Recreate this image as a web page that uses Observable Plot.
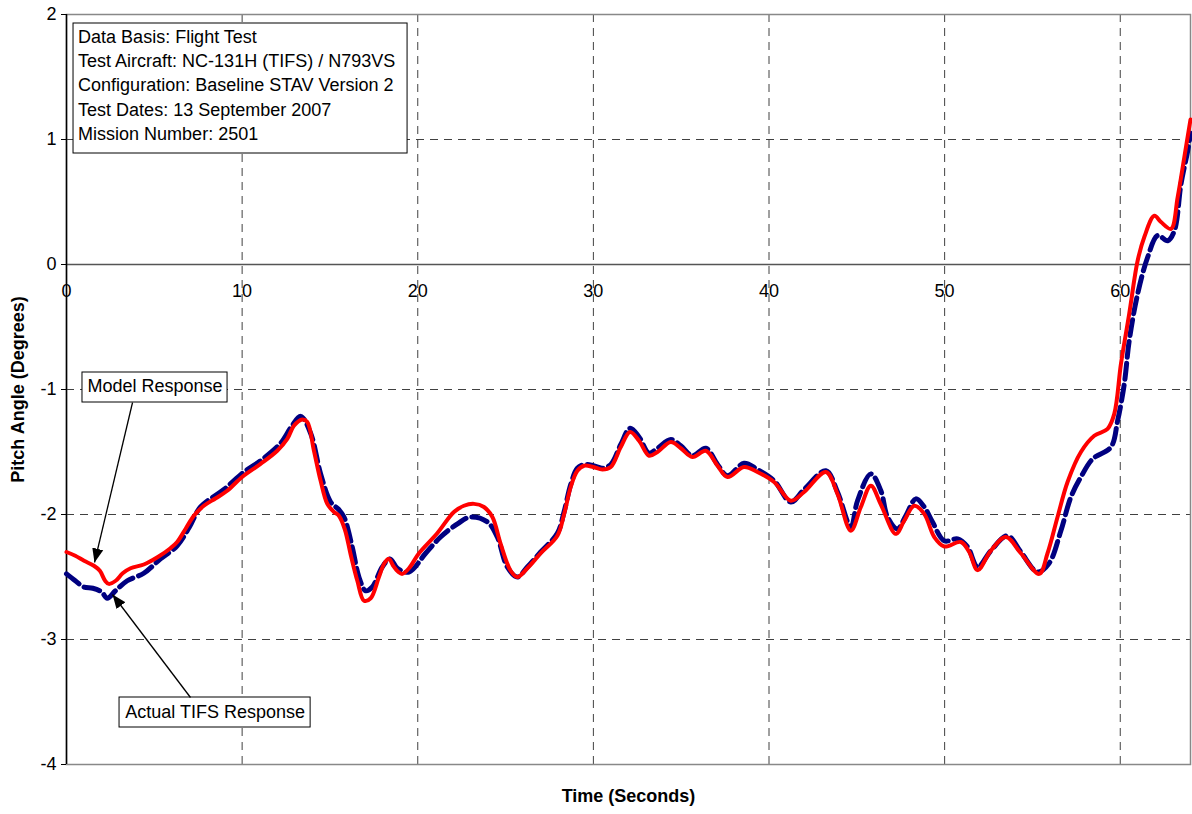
<!DOCTYPE html>
<html>
<head>
<meta charset="utf-8">
<script src="https://cdn.jsdelivr.net/npm/d3@7"></script>
<script src="https://cdn.jsdelivr.net/npm/@observablehq/plot@0.6"></script>
<style>
  html, body { margin: 0; padding: 0; background: #fff; }
</style>
</head>
<body>
<div id="chart"></div>
<script>
// ---- Data ----
const modelT = [0,0.5,1.0,1.56,1.9,2.2,2.41,2.8,3.2,3.65,4.4,5.2,5.92,6.3,6.8,7.25,7.82,8.5,9.15,10.0,11.05,12.0,12.57,12.95,13.43,13.71,14.09,14.47,14.85,15.23,15.51,15.85,16.18,16.56,16.94,17.32,17.79,18.1,18.36,18.6,18.9,19.12,19.5,20.07,21.11,22.06,22.63,23.2,23.77,24.25,24.72,25.29,25.67,26.24,27.0,27.95,28.33,28.71,29.09,29.47,30.0,30.51,30.99,31.56,32.09,32.6,33.17,33.65,34.41,34.98,35.64,36.4,37.07,37.64,38.58,39.34,40.29,41.24,42.0,43.24,43.9,44.66,45.23,45.8,46.37,47.22,47.7,48.27,48.84,49.41,49.98,50.93,51.4,51.88,52.63,53.49,54.34,55.39,55.86,56.43,57.0,57.76,58.52,59.28,59.66,60.04,60.51,60.99,61.37,61.94,62.32,62.89,63.27,63.65,64.0];
const modelV = [-2.30,-2.33,-2.37,-2.41,-2.45,-2.53,-2.555,-2.53,-2.47,-2.43,-2.40,-2.34,-2.27,-2.22,-2.11,-2.01,-1.93,-1.87,-1.81,-1.70,-1.595,-1.49,-1.395,-1.29,-1.24,-1.26,-1.49,-1.73,-1.915,-1.98,-2.01,-2.12,-2.32,-2.53,-2.69,-2.67,-2.50,-2.39,-2.355,-2.41,-2.46,-2.475,-2.43,-2.31,-2.15,-1.98,-1.93,-1.915,-1.94,-2.02,-2.235,-2.45,-2.50,-2.43,-2.31,-2.17,-2.00,-1.78,-1.65,-1.61,-1.62,-1.64,-1.62,-1.46,-1.34,-1.41,-1.53,-1.50,-1.42,-1.47,-1.54,-1.49,-1.61,-1.70,-1.62,-1.66,-1.74,-1.89,-1.82,-1.66,-1.835,-2.13,-1.94,-1.77,-1.92,-2.155,-2.05,-1.93,-1.995,-2.18,-2.256,-2.22,-2.30,-2.445,-2.29,-2.18,-2.31,-2.475,-2.31,-2.02,-1.74,-1.50,-1.37,-1.315,-1.195,-0.795,-0.395,0.03,0.22,0.39,0.34,0.285,0.54,0.86,1.16];

const actualT = [0,0.5,0.99,1.5,2.0,2.32,2.79,3.46,4.4,5.35,6.3,7.0,7.63,8.96,10.1,11.05,12.19,12.8,13.33,13.9,14.47,15.04,15.5,15.8,16.27,16.65,17.03,17.41,17.98,18.42,18.84,19.5,20.45,21.3,22.26,23.01,23.97,24.53,25.1,25.67,26.24,27.0,27.95,28.33,28.71,29.09,29.47,30.0,30.51,30.99,31.56,32.09,32.6,33.17,33.65,34.41,34.98,35.64,36.4,37.07,37.64,38.58,39.34,40.29,41.24,42.0,43.24,43.9,44.66,45.04,45.8,46.37,46.75,47.32,47.79,48.36,48.84,49.31,49.98,50.74,51.31,51.88,52.63,53.58,54.34,55.3,55.95,56.62,57.19,57.76,58.43,59.47,59.85,60.23,60.51,60.99,61.56,62.13,62.7,63.08,63.46,63.84,64.0];
const actualV = [-2.475,-2.53,-2.58,-2.59,-2.62,-2.67,-2.61,-2.53,-2.47,-2.355,-2.25,-2.10,-1.94,-1.80,-1.66,-1.57,-1.43,-1.30,-1.215,-1.35,-1.675,-1.90,-1.96,-2.02,-2.26,-2.50,-2.61,-2.58,-2.42,-2.355,-2.43,-2.46,-2.31,-2.18,-2.075,-2.02,-2.06,-2.18,-2.42,-2.50,-2.42,-2.30,-2.15,-1.98,-1.76,-1.63,-1.60,-1.61,-1.63,-1.60,-1.44,-1.31,-1.38,-1.51,-1.47,-1.40,-1.45,-1.53,-1.47,-1.60,-1.69,-1.59,-1.64,-1.73,-1.90,-1.80,-1.65,-1.82,-2.10,-1.89,-1.675,-1.81,-2.02,-2.115,-2.01,-1.875,-1.94,-2.06,-2.21,-2.195,-2.26,-2.42,-2.29,-2.17,-2.30,-2.46,-2.39,-2.13,-1.86,-1.70,-1.555,-1.46,-1.25,-0.955,-0.61,-0.235,0.058,0.232,0.19,0.27,0.645,0.91,1.05];

const xTicks = [0,10,20,30,40,50,60];
const yTicks = [-4,-3,-2,-1,0,1,2];
const xGrid = [10,20,30,40,50,60];
const yGrid = [-3,-2,-1,1];

const infoLines = [
  "Data Basis: Flight Test",
  "Test Aircraft: NC-131H (TIFS) / N793VS",
  "Configuration: Baseline STAV Version 2",
  "Test Dates: 13 September 2007",
  "Mission Number: 2501"
];
const modelLabel = "Model Response";
const actualLabel = "Actual TIFS Response";
const xTitle = "Time (Seconds)";
const yTitle = "Pitch Angle (Degrees)";

// ---- Tables built from the arrays ----
const model = modelT.map((t, i) => ({t, v: modelV[i]}));
const actual = actualT.map((t, i) => ({t, v: actualV[i]}));

const font = "'Liberation Sans', Arial, Helvetica, sans-serif";

const svg = Plot.plot({
  width: 1192,
  height: 814,
  marginLeft: 66,
  marginRight: 2,
  marginTop: 14,
  marginBottom: 50,
  style: {fontFamily: font, background: "#fff", color: "#000"},
  x: {domain: [0, 64], axis: null},
  y: {domain: [-4, 2], axis: null},
  marks: [
    Plot.gridX(xGrid, {stroke: "#000", strokeOpacity: 0.75, strokeDasharray: "8,6", strokeWidth: 1}),
    Plot.gridY(yGrid, {stroke: "#000", strokeOpacity: 0.75, strokeDasharray: "8,6", strokeWidth: 1}),
    Plot.frame({stroke: "#888", strokeWidth: 1.5}),
    Plot.ruleY([0], {stroke: "#555", strokeWidth: 1.5}),
    Plot.ruleX([0], {stroke: "#000", strokeWidth: 1.5}),
    Plot.axisY(yTicks, {tickSize: 5, tickPadding: 5, fontSize: 18, tickFormat: d => String(d), label: null, stroke: "#000"}),
    Plot.text(xTicks, {x: d => d, y: 0, dy: 27, text: d => String(d), fontSize: 18, fill: "#000"}),
    // series
    Plot.line(actual, {x: "t", y: "v", stroke: "#000080", strokeWidth: 5, strokeDasharray: "16,6", curve: "catmull-rom"}),
    Plot.line(model, {x: "t", y: "v", stroke: "#ff0000", strokeWidth: 4, curve: "catmull-rom"}),
    // annotation boxes
    Plot.rect([{x1: 0.40, x2: 19.42, y1: 1.928, y2: 0.888}], {x1: "x1", x2: "x2", y1: "y1", y2: "y2", fill: "#fff", stroke: "#000", strokeWidth: 1}),
    Plot.rect([{x1: 0.91, x2: 9.17, y1: -0.864, y2: -1.104}], {x1: "x1", x2: "x2", y1: "y1", y2: "y2", fill: "#fff", stroke: "#000", strokeWidth: 1}),
    Plot.rect([{x1: 3.02, x2: 13.9, y1: -3.464, y2: -3.704}], {x1: "x1", x2: "x2", y1: "y1", y2: "y2", fill: "#fff", stroke: "#000", strokeWidth: 1}),
    Plot.text([infoLines.join("\n")], {x: 0.66, y: 1.915, text: d => d, textAnchor: "start", lineAnchor: "top", lineHeight: 1.36, fontSize: 18, fill: "#000"}),
    Plot.text([modelLabel], {x: 5.04, y: -0.976, text: d => d, fontSize: 18, fill: "#000"}),
    Plot.text([actualLabel], {x: 8.46, y: -3.584, text: d => d, fontSize: 18, fill: "#000"}),
    Plot.link([{x1: 3.76, y1: -1.104, x2: 1.595, y2: -2.384}, {x1: 7.06, y1: -3.464, x2: 2.62, y2: -2.64}],
      {x1: "x1", y1: "y1", x2: "x2", y2: "y2", stroke: "#000", strokeWidth: 1.3}),
    // axis titles
    Plot.text([xTitle], {frameAnchor: "bottom", dy: 37, text: d => d, fontSize: 18, fontWeight: "bold", fill: "#000"}),
    Plot.text([yTitle], {frameAnchor: "left", textAnchor: "middle", dx: -48, rotate: -90, text: d => d, fontSize: 18, fontWeight: "bold", fill: "#000"})
  ]
});

// filled arrowheads on the annotation links
const s = d3.select(svg);
s.append("defs").append("marker")
  .attr("id", "arrowhead")
  .attr("viewBox", "0 0 10 10")
  .attr("refX", 10).attr("refY", 5)
  .attr("markerWidth", 14).attr("markerHeight", 14)
  .attr("markerUnits", "userSpaceOnUse")
  .attr("orient", "auto")
  .append("path").attr("d", "M0,1L10,5L0,9Z").attr("fill", "#000");
s.selectAll('g[aria-label="link"] path, g[aria-label="link"] line').attr("marker-end", "url(#arrowhead)");

document.getElementById("chart").appendChild(svg);
</script>
</body>
</html>
